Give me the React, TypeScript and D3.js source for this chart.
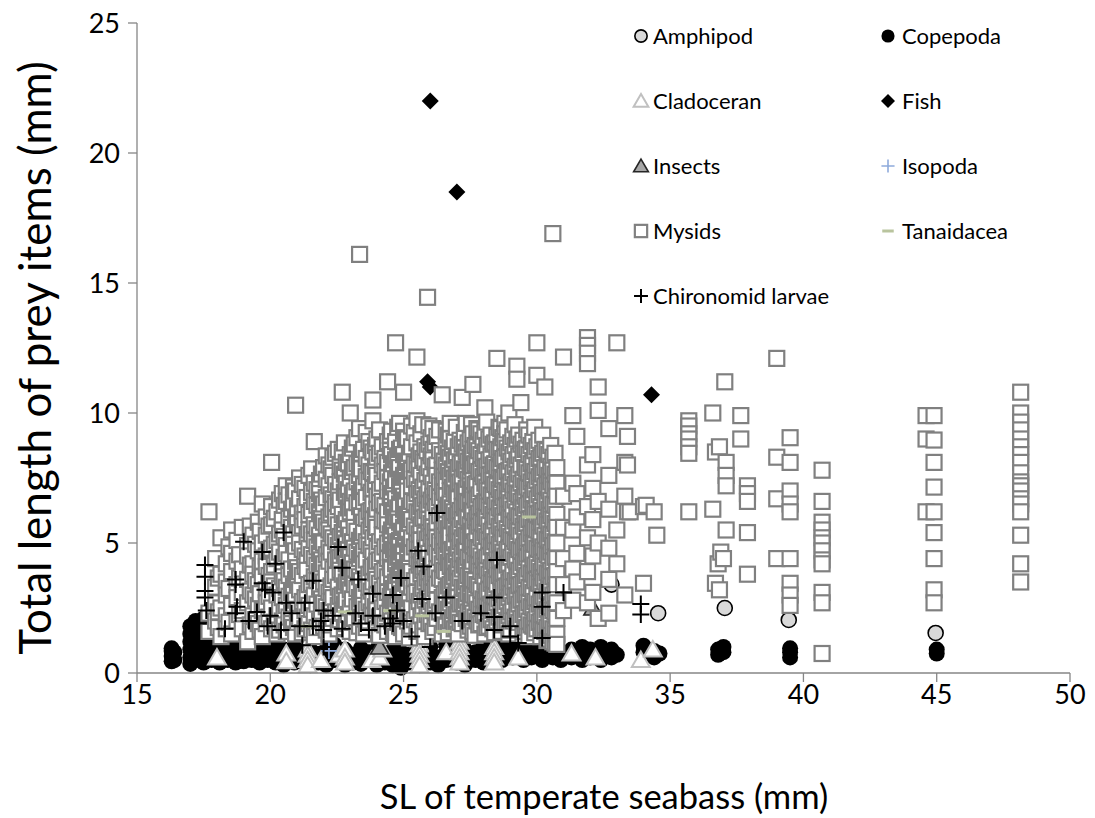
import React from "react";
import * as d3 from "d3";

const WIDTH = 1095;
const HEIGHT = 818;

const xTicks = [15, 20, 25, 30, 35, 40, 45, 50];
const yTicks = [0, 5, 10, 15, 20, 25];

type Col = [number, number[]];

// Each entry: fish standard length (mm) and the lengths (mm) of the prey items found in it.
const amphipodCols: Col[] = [
  [27.6, [2.65, 1.9]],
  [32.8, [3.4]],
  [34.55, [2.3]],
  [37.05, [2.5]],
  [39.45, [2.04]],
  [44.96, [1.54]],
];

const copepodaCols: Col[] = [
  [16.3, [0.45, 0.65, 0.85, 0.95]],
  [16.4, [0.5, 0.8]],
  [17.0, [0.35, 0.6, 0.9, 1.2, 1.5, 1.8]],
  [17.2, [0.5, 0.8, 1.1, 1.4, 1.7, 2.0]],
  [17.5, [0.4, 0.7, 1.0, 1.3, 1.6, 2.1]],
  [17.8, [0.5, 0.8, 1.1, 1.5]],
  [18.1, [0.4, 0.7, 1.0, 1.3]],
  [18.4, [0.5, 0.8, 1.1]],
  [18.7, [0.4, 0.7, 1.0]],
  [19.0, [0.45, 0.75, 1.05]],
  [19.3, [0.5, 0.8, 1.1, 1.3]],
  [19.6, [0.4, 0.7, 1.0]],
  [19.9, [0.5, 0.8, 1.2]],
  [20.2, [0.4, 0.7, 1.0]],
  [20.5, [0.3, 0.6, 0.9]],
  [20.9, [0.4, 0.7, 1.0]],
  [21.2, [0.5, 0.8]],
  [21.5, [0.3, 0.6, 0.9]],
  [21.8, [0.4, 0.7]],
  [22.1, [0.3, 0.6, 0.9]],
  [22.4, [0.5, 0.8, 1.1]],
  [22.8, [0.3, 0.6, 0.9]],
  [23.1, [0.4, 0.7]],
  [23.4, [0.35, 0.65, 0.95]],
  [23.7, [0.5, 0.8]],
  [24.0, [0.3, 0.6, 0.9]],
  [24.3, [0.4, 0.7]],
  [24.6, [0.3, 0.6, 0.9]],
  [24.9, [0.2, 0.5, 0.8]],
  [25.2, [0.4, 0.7]],
  [25.6, [0.3, 0.6, 0.9]],
  [26.0, [0.4, 0.7, 1.0]],
  [26.3, [0.3, 0.6]],
  [26.6, [0.5, 0.8, 1.1]],
  [27.0, [0.4, 0.7]],
  [27.3, [0.3, 0.6, 0.9]],
  [27.7, [0.5, 0.8]],
  [28.0, [0.4, 0.7, 1.0]],
  [28.4, [0.6, 0.9]],
  [28.7, [0.5, 0.8, 1.1]],
  [29.1, [0.6, 0.9]],
  [29.5, [0.5, 0.8, 1.0]],
  [29.8, [0.6, 0.9]],
  [30.2, [0.5, 0.8, 1.1]],
  [30.6, [0.6, 0.9, 1.2]],
  [30.9, [0.5, 0.8]],
  [31.3, [0.6, 0.9]],
  [31.7, [0.5, 0.8, 1.0]],
  [32.0, [0.6, 0.9]],
  [32.4, [0.5, 0.8, 1.0]],
  [32.8, [0.6, 0.9]],
  [33.0, [0.7]],
  [34.0, [0.8, 1.05]],
  [34.4, [0.6, 0.85]],
  [34.6, [0.75]],
  [36.8, [0.7, 0.9]],
  [37.0, [0.8, 1.0]],
  [39.5, [0.6, 0.8, 0.95]],
  [45.0, [0.75, 0.9]],
];

const cladoceranCols: Col[] = [
  [18.0, [0.6]],
  [20.6, [0.75, 0.45]],
  [21.4, [0.9, 0.7, 0.5, 0.3]],
  [21.9, [0.5]],
  [22.6, [0.7]],
  [22.8, [0.9, 0.6, 0.4]],
  [23.8, [0.5]],
  [24.1, [0.6]],
  [24.2, [0.9]],
  [25.6, [1.3, 1.1, 0.9, 0.7, 0.5, 0.3]],
  [26.6, [0.8]],
  [27.1, [1.2, 1.0, 0.8, 0.6, 0.4]],
  [28.4, [1.0, 0.8, 0.6, 0.4]],
  [29.3, [0.6]],
  [31.3, [0.75]],
  [32.2, [0.6]],
  [33.9, [0.5]],
  [34.35, [0.9]],
];

const fishCols: Col[] = [
  [25.9, [11.2, 7.0]],
  [26.0, [22.0, 11.0]],
  [27.0, [18.5]],
  [34.3, [10.7]],
];

const insectCols: Col[] = [
  [24.4, [8.1]],
  [32.1, [2.5]],
  [24.1, [1.0]],
];

const isopodaCols: Col[] = [[22.2, [1.2, 0.85]]];

// Mysids eaten by the smaller fish (SL below ~20 mm)
const mysidSmallFish: Col[] = [
  [17.7, [6.2, 2.3, 1.6]],
  [17.95, [4.4, 3.3, 2.7, 2.0]],
  [18.05, [3.65, 2.35, 1.75]],
  [18.15, [5.2, 3.8, 2.5, 1.4]],
  [18.35, [4.2, 3.5, 3.0, 2.2, 1.7]],
  [18.45, [4.85, 3.25, 1.95]],
  [18.55, [5.5, 4.6, 3.9, 2.6, 1.5]],
  [18.75, [5.1, 4.3, 3.4, 2.9, 2.0]],
  [18.85, [4.55, 3.65, 2.25]],
  [18.95, [5.6, 4.0, 3.1, 2.4, 1.7]],
  [19.15, [6.8, 4.9, 4.5, 3.6, 2.7, 1.2]],
  [19.25, [5.65, 4.15, 3.15, 1.85]],
  [19.35, [5.3, 4.2, 3.8, 3.0, 2.2, 1.6]],
  [19.45, [4.95, 3.55, 2.85, 2.05]],
  [19.55, [5.8, 4.7, 3.4, 2.6, 1.9]],
  [19.62, [5.45, 4.05, 3.05, 1.65]],
  [19.7, [6.5, 5.0, 4.3, 3.7, 2.4, 1.4]],
  [19.85, [6.0, 5.3, 4.5, 4.1, 3.2, 2.7, 1.9]],
  [19.95, [5.65, 4.75, 3.75, 2.95, 2.15]],
];

// Mysids eaten by the fish of 20-31 mm SL
const mysidMidFish: Col[] = [
  [20.05, [8.1, 6.4, 5.7, 4.8, 3.9, 3.5, 2.5, 1.7]],
  [20.15, [5.95, 4.95, 4.15, 3.35, 1.95]],
  [20.25, [6.2, 5.1, 4.4, 3.0, 2.2, 1.5]],
  [20.35, [6.65, 5.35, 4.65, 3.25, 2.45, 1.65]],
  [20.45, [6.9, 5.9, 5.5, 4.2, 3.7, 2.9, 2.0]],
  [20.52, [6.45, 5.25, 4.45, 3.55, 2.35, 1.85]],
  [20.6, [7.2, 6.6, 4.9, 4.6, 3.3, 2.6, 1.6]],
  [20.7, [6.85, 5.95, 4.35, 3.75, 2.95, 2.15]],
  [20.8, [6.3, 5.6, 5.2, 4.0, 3.1, 2.3, 1.9]],
  [20.87, [7.15, 6.55, 5.35, 4.95, 3.35, 2.65, 1.75]],
  [20.95, [10.3, 7.0, 6.0, 4.7, 4.3, 3.6, 2.8, 1.5]],
  [21.02, [6.35, 5.75, 4.05, 3.45, 2.45, 1.95]],
  [21.1, [7.5, 6.7, 5.4, 5.0, 3.9, 3.2, 2.1]],
  [21.2, [7.25, 6.15, 5.65, 4.75, 3.75, 2.75, 1.55]],
  [21.3, [7.1, 6.4, 5.9, 4.5, 4.1, 2.9, 2.4, 1.7]],
  [21.38, [6.75, 5.25, 4.35, 3.95, 3.05, 2.15]],
  [21.45, [7.6, 6.1, 5.5, 4.8, 3.4, 2.6, 1.9]],
  [21.55, [7.85, 6.95, 6.25, 5.35, 4.55, 3.45, 2.45, 1.65]],
  [21.65, [8.9, 7.3, 6.6, 5.7, 5.1, 4.4, 3.7, 3.0, 2.2, 1.4]],
  [21.75, [7.05, 6.45, 5.55, 4.85, 4.15, 3.55, 2.65, 1.75]],
  [21.85, [7.4, 6.9, 6.2, 5.3, 4.6, 3.9, 3.3, 2.0]],
  [21.92, [7.65, 6.65, 5.95, 5.05, 4.35, 3.75, 2.85, 2.25]],
  [22.0, [7.9, 6.5, 5.8, 5.0, 4.2, 3.5, 2.7, 1.8]],
  [22.1, [8.35, 7.45, 6.75, 5.65, 4.55, 3.85, 3.25, 2.55, 1.65]],
  [22.2, [8.0, 7.2, 6.0, 5.5, 4.8, 4.3, 3.1, 2.4, 1.5]],
  [22.28, [7.85, 6.85, 6.15, 5.35, 4.65, 3.35, 2.75, 1.85]],
  [22.35, [8.3, 7.6, 6.7, 6.3, 5.2, 4.0, 3.6, 2.9, 2.1]],
  [22.45, [8.45, 7.25, 6.55, 5.95, 5.05, 4.35, 3.75, 2.35]],
  [22.55, [8.6, 7.0, 6.4, 5.7, 4.9, 4.4, 3.3, 2.6, 1.7]],
  [22.62, [7.95, 7.35, 6.65, 5.25, 4.45, 3.95, 2.95, 2.05]],
  [22.7, [10.8, 8.5, 7.8, 6.1, 5.4, 4.7, 3.8, 3.0, 2.3]],
  [22.78, [8.85, 7.65, 6.95, 5.75, 5.15, 4.55, 3.35, 2.65, 1.75]],
  [22.85, [8.1, 7.3, 6.8, 5.9, 5.0, 4.2, 3.5, 2.8, 1.9]],
  [22.93, [8.05, 7.05, 6.35, 5.55, 4.75, 4.05, 3.45, 2.25]],
  [23.0, [10.0, 8.4, 7.5, 6.6, 6.2, 5.3, 4.5, 3.9, 3.2, 2.5, 1.6]],
  [23.08, [8.65, 7.75, 6.85, 6.35, 5.05, 4.25, 3.65, 2.85, 1.95]],
  [23.15, [8.8, 7.9, 7.0, 6.0, 5.6, 4.8, 4.0, 3.4, 2.1]],
  [23.25, [9.05, 8.05, 7.35, 6.55, 5.45, 4.65, 3.95, 3.25, 2.55, 1.55]],
  [23.35, [16.1, 9.4, 8.2, 7.6, 6.9, 6.4, 5.1, 4.4, 3.7, 2.9, 2.4, 1.8]],
  [23.42, [8.45, 7.85, 7.05, 6.05, 5.25, 4.55, 3.55, 2.85, 2.15]],
  [23.5, [8.6, 7.2, 6.6, 5.8, 5.4, 4.7, 4.2, 3.1, 2.6, 1.5]],
  [23.6, [9.25, 8.25, 7.55, 6.75, 5.95, 5.05, 4.35, 3.45, 2.45, 1.75]],
  [23.7, [8.9, 8.0, 7.4, 6.2, 5.5, 4.9, 3.8, 3.3, 2.7, 2.0]],
  [23.78, [8.65, 7.75, 6.95, 6.25, 5.65, 4.75, 4.05, 3.15, 2.35]],
  [23.85, [10.5, 9.7, 8.5, 7.7, 7.1, 6.5, 5.9, 5.2, 4.5, 4.1, 3.5, 2.8, 2.2]],
  [23.95, [8.75, 7.95, 7.25, 6.05, 5.45, 4.15, 3.85, 2.55, 1.95]],
  [24.0, [9.0, 8.3, 7.6, 6.8, 6.3, 5.6, 4.8, 4.3, 3.6, 3.0, 2.4, 1.7]],
  [24.1, [9.35, 8.45, 7.05, 6.55, 5.05, 4.35, 3.45, 2.15, 1.45]],
  [24.2, [8.7, 8.0, 7.3, 6.6, 5.9, 5.3, 4.6, 3.9, 3.2, 2.5, 1.9]],
  [24.3, [8.25, 7.75, 6.45, 5.85, 4.85, 3.95, 3.35, 2.75, 1.85]],
  [24.4, [11.2, 8.9, 8.1, 7.5, 7.0, 6.2, 5.7, 5.0, 4.4, 3.7, 3.1, 2.3, 1.6]],
  [24.5, [9.15, 8.55, 7.35, 6.75, 5.35, 4.65, 4.05, 2.95, 2.35]],
  [24.55, [9.3, 8.4, 7.7, 6.9, 6.4, 5.5, 4.9, 4.0, 3.4, 2.8, 2.0]],
  [24.62, [8.05, 7.15, 6.25, 5.65, 4.75, 3.25, 2.65, 1.55]],
  [24.7, [12.7, 8.9, 8.2, 7.4, 6.7, 6.0, 5.3, 4.7, 4.2, 3.5, 2.6, 2.1, 1.4]],
  [24.78, [9.45, 8.35, 7.85, 6.35, 5.95, 5.05, 4.45, 3.75, 2.85, 1.95]],
  [24.85, [9.6, 8.6, 7.9, 7.2, 6.5, 5.8, 5.1, 4.5, 3.8, 3.2, 2.4, 1.8]],
  [24.92, [8.65, 7.45, 6.95, 5.45, 4.65, 3.95, 3.05, 2.45, 1.75]],
  [25.0, [10.8, 9.3, 8.4, 7.6, 6.8, 6.3, 5.6, 4.9, 4.3, 3.6, 3.0, 2.3, 1.5]],
  [25.07, [9.05, 8.15, 7.65, 6.65, 6.05, 5.15, 4.05, 3.45, 2.65]],
  [25.15, [9.0, 8.1, 7.4, 7.0, 6.1, 5.4, 4.7, 4.1, 3.4, 2.7, 2.0]],
  [25.22, [8.45, 7.75, 6.35, 5.75, 4.95, 4.25, 3.65, 2.85, 2.15, 1.35]],
  [25.3, [9.5, 8.7, 7.8, 7.2, 6.6, 5.9, 5.2, 4.6, 3.9, 3.3, 2.5, 1.8]],
  [25.4, [9.25, 8.05, 7.45, 6.55, 5.65, 4.85, 3.55, 3.05, 2.05]],
  [25.5, [12.15, 9.7, 8.85, 8.0, 7.3, 6.9, 6.2, 5.5, 5.0, 4.4, 3.7, 3.1, 2.4, 1.6]],
  [25.58, [8.35, 7.85, 7.05, 6.15, 5.35, 4.75, 4.15, 2.75, 1.85]],
  [25.65, [9.2, 8.5, 7.6, 6.9, 6.4, 5.7, 5.1, 4.3, 3.8, 3.0, 2.2]],
  [25.72, [9.55, 8.25, 7.15, 6.45, 5.95, 4.55, 3.95, 3.25, 2.45, 1.65]],
  [25.8, [8.7, 8.1, 7.4, 6.7, 6.0, 5.3, 4.8, 4.1, 3.5, 2.8, 2.0, 1.4]],
  [25.88, [8.55, 7.65, 6.85, 6.25, 5.15, 4.35, 3.65, 2.95, 2.25]],
  [25.9, [14.45]],
  [25.95, [9.5, 8.8, 7.9, 7.1, 6.5, 5.9, 5.4, 4.6, 3.9, 3.3, 2.6, 1.9]],
  [26.03, [9.05, 8.35, 7.55, 6.65, 5.75, 5.25, 4.15, 3.45, 2.75, 1.95]],
  [26.1, [9.4, 8.6, 8.2, 7.3, 6.8, 6.2, 5.6, 5.0, 4.4, 3.7, 3.1, 2.4, 1.6]],
  [26.18, [8.85, 7.95, 7.05, 6.55, 5.45, 4.85, 3.85, 3.25, 2.55, 1.75]],
  [26.25, [9.1, 8.0, 7.6, 6.9, 6.4, 5.8, 5.2, 4.6, 4.0, 3.4, 2.8, 2.1]],
  [26.35, [9.35, 8.55, 7.35, 6.75, 6.05, 5.05, 4.45, 3.65, 2.35]],
  [26.45, [10.7, 8.4, 7.8, 7.2, 6.6, 6.1, 5.5, 4.9, 4.2, 3.6, 2.9, 2.3, 1.5]],
  [26.52, [8.15, 7.55, 6.95, 5.85, 5.25, 4.65, 3.95, 3.05, 2.65, 1.85]],
  [26.6, [9.3, 8.7, 8.0, 7.4, 6.8, 6.3, 5.7, 5.1, 4.5, 3.9, 3.2, 2.6, 1.8]],
  [26.68, [9.15, 8.45, 7.75, 6.45, 5.55, 4.95, 4.25, 3.35, 2.45, 1.55]],
  [26.75, [9.6, 9.0, 8.3, 7.6, 7.0, 6.5, 5.8, 5.3, 4.7, 4.1, 3.4, 2.7, 2.0]],
  [26.83, [8.65, 7.85, 7.15, 6.35, 5.85, 4.75, 4.05, 3.55, 2.85, 2.05]],
  [26.9, [8.9, 8.2, 7.5, 6.9, 6.2, 5.6, 5.0, 4.3, 3.7, 3.0, 2.4, 1.7]],
  [26.98, [9.45, 8.35, 7.65, 6.85, 6.05, 5.35, 4.55, 3.85, 3.15, 2.25, 1.75]],
  [27.05, [8.7, 7.9, 7.3, 6.7, 6.1, 5.4, 4.8, 4.1, 3.5, 2.9, 2.2, 1.5]],
  [27.12, [8.95, 8.05, 7.35, 6.25, 5.65, 5.05, 4.35, 3.65, 2.65, 1.95]],
  [27.2, [10.6, 8.8, 8.1, 7.5, 7.0, 6.4, 5.9, 5.2, 4.6, 4.0, 3.3, 2.7, 1.9]],
  [27.28, [9.25, 8.65, 7.85, 6.95, 6.35, 5.55, 4.85, 4.15, 3.25, 2.55]],
  [27.35, [9.6, 8.5, 7.8, 7.1, 6.6, 6.0, 5.3, 4.7, 4.1, 3.5, 2.8, 2.1]],
  [27.42, [8.85, 8.15, 7.45, 6.55, 5.95, 5.25, 4.45, 3.75, 3.05, 2.35, 1.65]],
  [27.5, [9.0, 8.3, 7.7, 7.2, 6.5, 5.7, 5.1, 4.4, 3.8, 3.1, 2.5, 1.8]],
  [27.55, [9.55, 8.45, 7.95, 7.05, 6.25, 5.45, 4.95, 4.05, 3.45, 2.75, 2.05]],
  [27.6, [11.1, 9.2, 8.6, 7.9, 7.4, 6.8, 6.2, 5.6, 4.9, 4.3, 3.6, 3.0, 2.3, 1.6]],
  [27.68, [8.75, 8.05, 7.25, 6.65, 5.85, 5.05, 4.55, 3.55, 2.95, 2.15, 1.45]],
  [27.75, [9.4, 8.7, 8.0, 7.3, 6.7, 6.0, 5.4, 4.8, 4.2, 3.4, 2.7, 2.0]],
  [27.82, [9.35, 8.55, 7.75, 6.85, 6.15, 5.65, 4.75, 4.15, 3.35, 2.45, 1.85]],
  [27.9, [9.2, 8.4, 7.8, 7.1, 6.4, 5.8, 5.2, 4.5, 3.9, 3.2, 2.6, 1.9]],
  [27.98, [8.95, 8.25, 7.55, 6.45, 5.75, 5.15, 4.35, 3.75, 2.85, 2.25]],
  [28.05, [10.2, 9.3, 8.5, 7.9, 7.3, 6.6, 6.0, 5.4, 4.7, 4.1, 3.5, 2.8, 2.2, 1.5]],
  [28.12, [9.65, 8.75, 7.95, 7.15, 6.55, 5.95, 5.25, 4.45, 3.95, 3.15, 2.55, 1.75]],
  [28.2, [9.0, 8.2, 7.6, 7.0, 6.4, 5.7, 5.1, 4.5, 3.8, 3.2, 2.5, 1.8]],
  [28.28, [9.15, 8.35, 7.65, 6.85, 6.25, 5.45, 4.85, 4.05, 3.45, 2.65, 2.05]],
  [28.35, [8.8, 8.0, 7.4, 6.8, 6.1, 5.5, 4.9, 4.3, 3.6, 3.0, 2.4, 1.7]],
  [28.42, [8.85, 8.05, 7.25, 6.45, 5.85, 5.05, 4.25, 3.55, 2.95, 2.35, 1.55]],
  [28.5, [12.1, 9.1, 8.6, 7.9, 7.2, 6.6, 6.0, 5.3, 4.7, 4.0, 3.4, 2.7, 2.0]],
  [28.58, [9.45, 8.55, 7.85, 7.05, 6.35, 5.65, 4.95, 4.35, 3.75, 2.85, 2.15]],
  [28.65, [9.4, 8.7, 8.1, 7.5, 6.9, 6.3, 5.6, 5.0, 4.4, 3.7, 3.1, 2.3, 1.6]],
  [28.72, [9.05, 8.25, 7.45, 6.75, 6.05, 5.35, 4.65, 3.85, 3.25, 2.45, 1.85]],
  [28.8, [9.6, 9.2, 8.9, 8.3, 7.6, 7.0, 6.4, 5.8, 5.2, 4.5, 3.9, 3.3, 2.6, 1.9]],
  [28.88, [9.35, 8.65, 7.75, 6.95, 6.45, 5.55, 4.75, 4.15, 3.35, 2.75, 1.95]],
  [28.95, [10.0, 8.5, 7.8, 7.2, 6.7, 6.1, 5.4, 4.8, 4.2, 3.5, 2.9, 2.2, 1.5]],
  [29.02, [8.85, 8.15, 7.35, 6.55, 5.95, 5.25, 4.45, 3.65, 3.05, 2.35, 1.65]],
  [29.1, [9.1, 8.4, 7.7, 7.0, 6.3, 5.7, 5.1, 4.6, 3.9, 3.3, 2.6, 2.0]],
  [29.18, [9.55, 8.75, 7.95, 7.25, 6.65, 5.85, 5.05, 4.35, 3.55, 2.95, 2.15]],
  [29.25, [11.8, 11.3, 9.0, 8.2, 7.5, 6.9, 6.2, 5.6, 5.0, 4.3, 3.7, 3.0, 2.4, 1.7]],
  [29.32, [9.15, 8.35, 7.65, 6.85, 6.05, 5.45, 4.75, 3.95, 3.35, 2.65, 1.95]],
  [29.4, [10.4, 8.8, 8.0, 7.3, 6.6, 6.0, 5.3, 4.7, 4.1, 3.4, 2.8, 2.1]],
  [29.48, [8.95, 8.45, 7.45, 6.75, 6.35, 5.65, 4.85, 4.25, 3.45, 2.85, 2.25, 1.45]],
  [29.55, [8.6, 7.9, 7.2, 6.8, 6.1, 5.5, 4.9, 4.2, 3.6, 3.0, 2.3, 1.6]],
  [29.62, [9.35, 8.65, 7.85, 7.15, 6.45, 5.75, 5.05, 4.45, 3.75, 3.05, 2.45, 1.75]],
  [29.7, [9.15, 8.4, 7.7, 7.1, 6.5, 5.9, 5.2, 4.6, 4.0, 3.3, 2.7, 2.0, 1.4]],
  [29.78, [8.75, 8.05, 7.35, 6.65, 5.95, 5.35, 4.65, 3.85, 3.25, 2.55, 1.85]],
  [29.85, [8.9, 8.1, 7.5, 6.9, 6.3, 5.6, 5.0, 4.4, 3.8, 3.1, 2.5, 1.8]],
  [29.92, [9.45, 8.55, 7.75, 7.05, 6.25, 5.55, 4.95, 4.15, 3.55, 2.75, 2.05, 1.55]],
  [30.0, [12.7, 11.45, 8.7, 8.0, 7.4, 6.7, 6.1, 5.5, 4.8, 4.2, 3.6, 2.9, 2.3, 1.7]],
  [30.08, [8.95, 8.25, 7.55, 6.85, 6.15, 5.45, 4.75, 4.05, 3.45, 2.65, 1.95]],
  [30.15, [8.3, 7.7, 7.1, 6.4, 5.8, 5.2, 4.6, 3.9, 3.3, 2.7, 2.0, 1.4]],
  [30.22, [9.15, 8.45, 7.65, 6.95, 6.25, 5.65, 4.85, 4.25, 3.65, 2.95, 2.25, 1.65]],
  [30.3, [11.0, 8.6, 7.9, 7.2, 6.6, 6.0, 5.3, 4.7, 4.1, 3.5, 2.8, 2.2, 1.6]],
  [30.38, [8.55, 7.85, 7.25, 6.55, 5.85, 5.15, 4.55, 3.85, 3.15, 2.45, 1.75, 1.25]],
  [30.45, [8.4, 7.6, 7.0, 6.3, 5.7, 5.1, 4.5, 3.8, 3.2, 2.6, 1.9, 1.3]],
  [30.52, [8.75, 7.95, 7.35, 6.65, 6.05, 5.35, 4.65, 3.95, 3.35, 2.55, 1.95, 1.45]],
  [30.6, [16.9, 8.3, 7.8, 7.2, 6.5, 5.9, 5.3, 4.9, 4.3, 3.7, 3.0, 2.4, 1.7, 1.2]],
  [30.68, [8.45, 7.65, 7.05, 6.45, 5.75, 5.05, 4.45, 3.75, 3.05, 2.35, 1.65, 1.15]],
  [30.75, [7.9, 7.3, 6.8, 6.1, 5.6, 5.0, 4.4, 3.9, 3.4, 2.7, 2.1, 1.5, 1.1]],
];

// Mysids eaten by the larger fish (SL above ~31 mm)
const mysidLargeFish: Col[] = [
  [31.0, [12.15, 6.8, 5.6, 4.4, 3.4, 2.4]],
  [31.35, [9.9, 7.3, 5.5, 4.0, 2.8]],
  [31.5, [9.1, 6.9, 6.0, 4.6, 3.5]],
  [31.9, [12.9, 12.6, 12.3, 11.9, 8.0, 6.4, 5.2, 3.9, 2.7]],
  [32.1, [8.4, 7.1, 5.9, 4.5, 3.1]],
  [32.3, [11.0, 10.1, 6.6, 5.0, 2.1]],
  [32.7, [9.4, 7.6, 6.3, 4.8, 3.6, 2.3]],
  [33.0, [12.7, 5.5, 4.2]],
  [33.3, [9.9, 8.1, 6.8, 3.0]],
  [33.4, [9.1, 8.0, 6.2]],
  [33.5, [6.2]],
  [34.0, [3.45, 6.4]],
  [34.1, [6.45]],
  [34.4, [6.2]],
  [34.5, [5.3]],
  [35.7, [9.7, 9.5, 9.2, 9.0, 8.7, 8.45, 6.2]],
  [36.6, [10.0, 6.3]],
  [36.7, [8.5, 3.45]],
  [36.8, [4.2]],
  [36.85, [8.7, 3.2]],
  [36.9, [4.65]],
  [37.0, [4.4]],
  [37.05, [11.2]],
  [37.1, [8.1, 7.6, 7.2, 5.5]],
  [37.65, [9.9, 9.0]],
  [37.9, [7.2, 6.9, 6.6, 5.4, 3.8]],
  [39.0, [12.1, 8.3, 6.7, 4.4]],
  [39.5, [9.05, 8.1, 7.0, 6.5, 6.2, 4.4, 3.45, 3.0, 2.6]],
  [40.7, [7.8, 6.6, 5.8, 5.5, 5.2, 5.0, 4.7, 4.35, 4.2, 3.1, 2.7, 0.75]],
  [44.6, [9.9, 9.0, 6.2]],
  [44.9, [9.9, 8.96, 8.1, 7.15, 6.2, 5.4, 4.4, 3.2, 2.7]],
  [48.15, [10.8, 10.0, 9.65, 9.35, 9.0, 8.7, 8.4, 8.1, 7.7, 7.35, 7.2, 7.0, 6.7, 6.5, 6.2, 5.3, 4.2, 3.5]],
];

const tanaidaceaCols: Col[] = [
  [21.4, [1.8]],
  [22.8, [2.35]],
  [24.5, [2.4]],
  [25.7, [2.2]],
  [26.5, [1.6]],
  [29.7, [6.0]],
];

const chironomidCols: Col[] = [
  [17.3, [1.9]],
  [17.55, [4.15, 3.7, 3.15, 2.9]],
  [17.6, [2.4]],
  [18.3, [1.7]],
  [18.7, [3.6, 3.4, 2.3]],
  [18.75, [2.55]],
  [19.0, [5.05]],
  [19.2, [2.0]],
  [19.5, [2.35]],
  [19.7, [4.65, 3.45]],
  [19.8, [3.2]],
  [19.9, [1.8]],
  [20.0, [2.2]],
  [20.1, [3.1]],
  [20.2, [4.2]],
  [20.4, [1.65]],
  [20.5, [5.4]],
  [20.6, [2.7]],
  [20.8, [2.3]],
  [21.1, [1.8]],
  [21.2, [1.07]],
  [21.3, [2.7]],
  [21.6, [3.55, 1.8]],
  [21.9, [2.0]],
  [22.0, [1.0, 2.4, 1.65]],
  [22.35, [2.2]],
  [22.55, [4.85]],
  [22.7, [4.05, 1.7]],
  [23.2, [2.3]],
  [23.3, [3.6]],
  [23.4, [1.9]],
  [23.7, [1.65]],
  [23.85, [3.05, 2.2]],
  [24.3, [1.8]],
  [24.5, [2.1]],
  [24.6, [3.0, 1.9]],
  [24.75, [2.4]],
  [24.9, [3.65]],
  [25.0, [2.0]],
  [25.3, [1.4]],
  [25.55, [4.7]],
  [25.7, [2.85]],
  [25.75, [4.1]],
  [26.0, [1.0]],
  [26.2, [2.3]],
  [26.25, [6.15]],
  [26.6, [2.9]],
  [27.2, [2.0]],
  [27.9, [2.3]],
  [28.4, [2.9, 2.15, 1.65]],
  [28.5, [4.35]],
  [29.0, [1.8, 1.4]],
  [29.3, [1.15]],
  [30.2, [3.1, 2.55, 1.35]],
  [31.0, [3.1]],
  [33.9, [2.65, 2.25]],
];

type MarkerKind =
  | "amphipod"
  | "copepoda"
  | "cladoceran"
  | "fish"
  | "insects"
  | "isopoda"
  | "mysids"
  | "tanaidacea"
  | "chironomid";

interface Series {
  name: string;
  kind: MarkerKind;
  cols: Col[];
}

// Drawing order follows the legend order (later series sit on top).
const series: Series[] = [
  { name: "Amphipod", kind: "amphipod", cols: amphipodCols },
  { name: "Copepoda", kind: "copepoda", cols: copepodaCols },
  { name: "Cladoceran", kind: "cladoceran", cols: cladoceranCols },
  { name: "Fish", kind: "fish", cols: fishCols },
  { name: "Insects", kind: "insects", cols: insectCols },
  { name: "Isopoda", kind: "isopoda", cols: isopodaCols },
  { name: "Mysids", kind: "mysids", cols: [...mysidSmallFish, ...mysidMidFish, ...mysidLargeFish] },
  { name: "Tanaidacea", kind: "tanaidacea", cols: tanaidaceaCols },
  { name: "Chironomid larvae", kind: "chironomid", cols: chironomidCols },
];

const toPoints = (cols: Col[]) =>
  cols.flatMap(([x, ys]) => ys.map((y) => [x, y] as [number, number]));

function Marker({ kind, scale = 1 }: { kind: MarkerKind; scale?: number }) {
  const s = scale;
  switch (kind) {
    case "amphipod":
      return <circle r={7.5 * s} fill="#d9d9d9" stroke="#000" strokeWidth={1.6} />;
    case "copepoda":
      return <circle r={8 * s} fill="#000" />;
    case "cladoceran":
      return (
        <path
          d={`M0,${-8.5 * s}L${9 * s},${7 * s}L${-9 * s},${7 * s}Z`}
          fill="#fff"
          stroke="#c0c0c0"
          strokeWidth={2}
        />
      );
    case "fish":
      return <path d={`M0,${-8.5 * s}L${8.5 * s},0L0,${8.5 * s}L${-8.5 * s},0Z`} fill="#000" />;
    case "insects":
      return (
        <path
          d={`M0,${-8.5 * s}L${9 * s},${7 * s}L${-9 * s},${7 * s}Z`}
          fill="#a6a6a6"
          stroke="#262626"
          strokeWidth={1.6}
        />
      );
    case "isopoda":
      return (
        <path
          d={`M${-8 * s},0H${8 * s}M0,${-8 * s}V${8 * s}`}
          stroke="#8eaadb"
          strokeWidth={1.6}
          fill="none"
        />
      );
    case "mysids":
      return (
        <rect
          x={-7.5 * s}
          y={-7.5 * s}
          width={15 * s}
          height={15 * s}
          fill="#fff"
          stroke="#808080"
          strokeWidth={2.2}
        />
      );
    case "tanaidacea":
      return <path d={`M${-7 * s},0H${7 * s}`} stroke="#b9c49e" strokeWidth={3} fill="none" />;
    case "chironomid":
      return (
        <path
          d={`M${-8.5 * s},0H${8.5 * s}M0,${-8.5 * s}V${8.5 * s}`}
          stroke="#000"
          strokeWidth={2}
          fill="none"
        />
      );
  }
}

const legendCells: { name: string; kind: MarkerKind; col: number; row: number }[] = series.map(
  (s, i) => ({ name: s.name, kind: s.kind, col: i % 2, row: Math.floor(i / 2) })
);

export default function App() {
  const plotLeft = 137;
  const plotRight = 1070;
  const plotTop = 23;
  const plotBottom = 673;

  const x = d3.scaleLinear().domain([15, 50]).range([plotLeft, plotRight]);
  const y = d3.scaleLinear().domain([0, 25]).range([plotBottom, plotTop]);

  const axisColor = "#868686";
  const font = "Lato, 'Open Sans', sans-serif";

  const legendX = [641, 888];
  const legendTextX = [653, 902];
  const legendY = (row: number) => 36 + row * 65;

  return (
    <div style={{ position: "fixed", left: 0, top: 0, width: WIDTH, height: HEIGHT, background: "#fff" }}>
      <svg width={WIDTH} height={HEIGHT} viewBox={`0 0 ${WIDTH} ${HEIGHT}`} style={{ display: "block" }}>
        <rect width={WIDTH} height={HEIGHT} fill="#fff" />

        {/* markers */}
        <g>
          {series.map((s) => (
            <g key={s.name}>
              {toPoints(s.cols).map(([vx, vy], i) => (
                <g key={i} transform={`translate(${x(vx)},${y(vy)})`}>
                  <Marker kind={s.kind} />
                </g>
              ))}
            </g>
          ))}
        </g>

        {/* y axis */}
        <line x1={plotLeft} x2={plotLeft} y1={plotTop} y2={plotBottom} stroke={axisColor} strokeWidth={1.3} />
        {yTicks.map((t) => (
          <g key={t}>
            <line x1={plotLeft - 9} x2={plotLeft} y1={y(t)} y2={y(t)} stroke={axisColor} strokeWidth={1.3} />
            <text
              x={plotLeft - 17}
              y={y(t)}
              dy="0.36em"
              textAnchor="end"
              fontFamily={font}
              fontSize={27}
              fill="#000"
            >
              {t}
            </text>
          </g>
        ))}

        {/* x axis */}
        <line x1={plotLeft} x2={plotRight} y1={plotBottom} y2={plotBottom} stroke={axisColor} strokeWidth={1.3} />
        {xTicks.map((t) => (
          <g key={t}>
            <line x1={x(t)} x2={x(t)} y1={plotBottom} y2={plotBottom + 9} stroke={axisColor} strokeWidth={1.3} />
            <text x={x(t)} y={plotBottom + 31} textAnchor="middle" fontFamily={font} fontSize={27} fill="#000">
              {t}
            </text>
          </g>
        ))}

        {/* axis titles */}
        <text x={604} y={809} textAnchor="middle" fontFamily={font} fontSize={34.5} fill="#000">
          SL of temperate seabass (mm)
        </text>
        <text
          transform={`translate(51,358) rotate(-90)`}
          textAnchor="middle"
          fontFamily={font}
          fontSize={44}
          fill="#000"
        >
          Total length of prey items (mm)
        </text>

        {/* legend */}
        {legendCells.map((c) => (
          <g key={c.name}>
            <g transform={`translate(${legendX[c.col]},${legendY(c.row)})`}>
              <Marker kind={c.kind} scale={0.82} />
            </g>
            <text
              x={legendTextX[c.col]}
              y={legendY(c.row)}
              dy="0.36em"
              fontFamily={font}
              fontSize={22}
              fill="#000"
            >
              {c.name}
            </text>
          </g>
        ))}
      </svg>
    </div>
  );
}
